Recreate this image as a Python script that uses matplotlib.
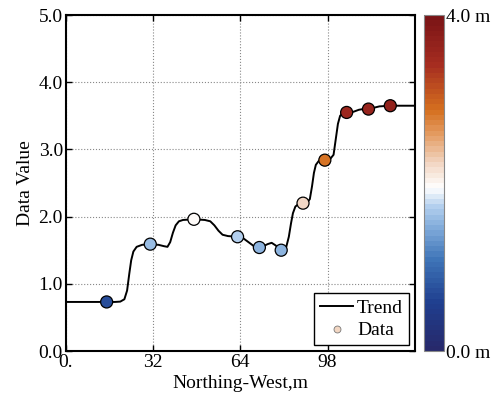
import numpy as np
import matplotlib
matplotlib.use('Agg')
import matplotlib.pyplot as plt
from matplotlib.colors import LinearSegmentedColormap, Normalize
from matplotlib.lines import Line2D
from matplotlib.colorbar import ColorbarBase

plt.rcParams['font.family'] = ['Liberation Serif', 'DejaVu Serif']
plt.rcParams['font.size'] = 14

# trend curve
trend_x = [0, 18, 20, 21.5, 22.5, 23.3, 24.0, 24.8, 26, 28, 31, 34, 36, 37.3, 38.3,
           39.3, 40.3, 41.5, 43, 47, 51, 53, 54.5, 56, 57.5, 59.5, 63, 65, 67, 69,
           71, 72.5, 74, 75.5, 77, 78.5, 79.5, 80.8, 81.8, 82.6, 83.3, 84.2, 85.5,
           87, 88.5, 89.5, 90.3, 91.0, 91.7, 92.8, 95, 97, 98.2, 99.0, 99.8, 100.6,
           101.8, 103, 105.5, 107.5, 109, 111, 113, 115, 119, 128]
trend_y = [0.73, 0.73, 0.735, 0.77, 0.9, 1.15, 1.35, 1.48, 1.55, 1.58, 1.59, 1.58,
           1.56, 1.55, 1.62, 1.76, 1.87, 1.93, 1.95, 1.96, 1.95, 1.93, 1.87, 1.79,
           1.73, 1.71, 1.70, 1.68, 1.62, 1.56, 1.54, 1.56, 1.59, 1.61, 1.57, 1.51,
           1.50, 1.54, 1.70, 1.90, 2.05, 2.15, 2.19, 2.20, 2.21, 2.26, 2.45, 2.65,
           2.77, 2.83, 2.84, 2.86, 2.92, 3.15, 3.38, 3.50, 3.55, 3.55, 3.56, 3.59,
           3.60, 3.60, 3.62, 3.64, 3.65, 3.65]

# sampled data points
data_x = [15, 31, 47, 63, 71, 79, 87, 95, 103, 111, 119]
data_y = [0.73, 1.59, 1.96, 1.70, 1.54, 1.50, 2.20, 2.84, 3.55, 3.60, 3.65]

xtick_pos = [0, 32, 64, 96]
xtick_labels = ['0.', '32', '64', '98']
ytick_pos = [0, 1, 2, 3, 4, 5]
ytick_labels = ['0.0', '1.0', '2.0', '3.0', '4.0', '5.0']

# blue - white - orange - red colormap, banded like the original
cmap = LinearSegmentedColormap.from_list('bwor', [
    (0.00, '#27296b'),
    (0.14, '#1f3f8f'),
    (0.27, '#3f75b8'),
    (0.37, '#84aedc'),
    (0.43, '#b4d0ee'),
    (0.485, '#ffffff'),
    (0.56, '#f2d6c2'),
    (0.65, '#e39a60'),
    (0.72, '#d5701f'),
    (0.86, '#a52c20'),
    (1.00, '#7a1416'),
], N=64)
norm = Normalize(vmin=0.0, vmax=4.0)

fig = plt.figure(figsize=(4.98, 4.0), dpi=100)
ax = fig.add_axes([0.132, 0.1225, 0.701, 0.84])
cax = fig.add_axes([0.852, 0.1225, 0.040, 0.84])

ax.plot(trend_x, trend_y, color='black', lw=1.4, zorder=2)
ax.scatter(data_x, data_y, c=data_y, cmap=cmap, norm=norm, s=75,
           edgecolors='black', linewidths=0.9, zorder=3)

ax.set_xlim(0, 128)
ax.set_ylim(0, 5)
ax.set_xticks(xtick_pos)
ax.set_xticklabels(xtick_labels)
ax.set_yticks(ytick_pos)
ax.set_yticklabels(ytick_labels)
ax.tick_params(direction='in', top=True, right=True, length=4, width=1,
               labelsize=14, pad=2)
ax.grid(True, linestyle=':', color='#888888', lw=0.8)
for sp in ax.spines.values():
    sp.set_linewidth(1.5)
ax.set_xlabel('Northing-West,m', fontsize=14, labelpad=3)
ax.set_ylabel('Data Value', fontsize=14, labelpad=3)

handles = [
    Line2D([], [], color='black', lw=1.4),
    Line2D([], [], marker='o', ls='', markersize=5, markerfacecolor='#f2d6c2',
           markeredgecolor='#777777', markeredgewidth=0.6),
]
leg = ax.legend(handles, ['Trend', 'Data'], loc='lower right', fancybox=False,
                framealpha=1, edgecolor='black', borderaxespad=0.3,
                handlelength=1.7, handletextpad=0.2, borderpad=0.3,
                labelspacing=0.25, fontsize=14)
leg.get_frame().set_linewidth(1.0)

cb = ColorbarBase(cax, cmap=cmap, norm=norm, orientation='vertical')
cb.set_ticks([0, 4])
cb.set_ticklabels(['0.0 m', '4.0 m'])
cax.tick_params(length=0, labelsize=14, pad=1)
cb.outline.set_edgecolor('#888888')
cb.outline.set_linewidth(0.8)

fig.savefig('out.png', dpi=100)
